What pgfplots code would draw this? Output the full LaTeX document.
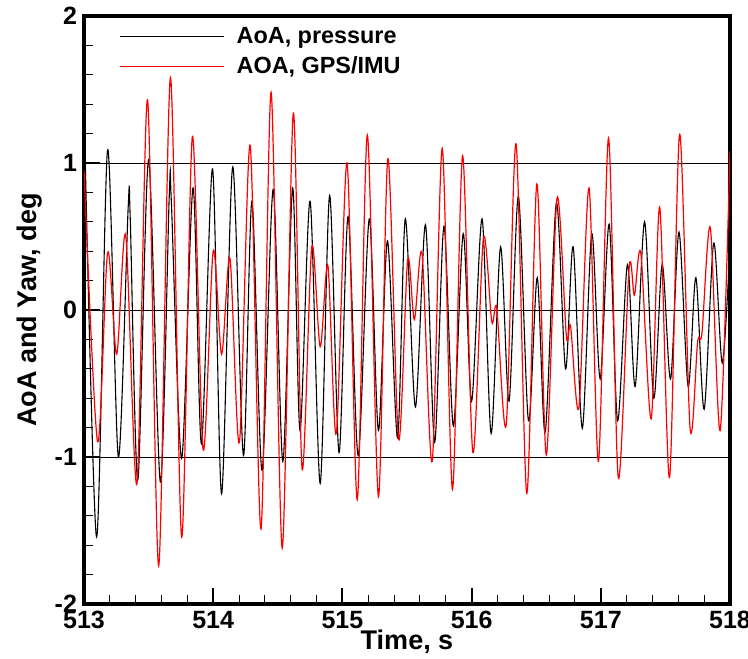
\documentclass[border=0pt]{standalone}
\usepackage{fontspec}
\setmainfont{Liberation Sans}
\usepackage{pgfplots}
\pgfplotsset{compat=1.18}
\begin{document}
\begin{tikzpicture}
\path[use as bounding box] (-42pt,-27pt) rectangle (332pt,302pt);
\begin{axis}[
  at={(0,0)}, anchor=south west,
  scale only axis, width=323pt, height=294pt,
  xmin=513, xmax=518, ymin=-2, ymax=2,
  xtick={513,514,515,516,517,518}, ytick={-2,-1,0,1,2},
  minor x tick num=4, minor y tick num=4,
  tick pos=left, tick align=inside,
  major tick length=8pt, minor tick length=4.5pt,
  every major tick/.append style={line width=1pt, black},
  every minor tick/.append style={line width=0.5pt, black},
  axis line style={line width=1.6pt},
  ymajorgrids, major grid style={black, line width=0.5pt},
  /pgf/number format/assume math mode=true,
  /pgf/number format/1000 sep={},
  tick label style={font=\fontsize{12.5}{14}\selectfont\bfseries},
  xlabel={Time, s}, ylabel={AoA and Yaw, deg},
  label style={font=\fontsize{13.5}{16}\selectfont\bfseries},
  xlabel style={at={(axis description cs:0.5,0)}, anchor=north, yshift=-9.5pt},
  ylabel style={at={(axis description cs:-0.0836,0.5)}, anchor=center},
  legend cell align=left,
  legend image code/.code={\draw[#1] (0pt,0pt) -- (52pt,0pt); \path (56pt,0pt);},
  legend style={draw=none, fill=none, at={(axis description cs:0.045,0.995)}, anchor=north west,
    font=\fontsize{11.7}{13}\selectfont\bfseries, row sep=1pt},
]
\addplot[black, line width=0.55pt, smooth] coordinates {
(513.000,1.40) (513.097,-1.545) (513.183,1.09) (513.266,-1.00) (513.342,0.70) (513.358,0.62)
(513.417,-1.156) (513.500,1.02) (513.591,-1.17) (513.660,0.78) (513.676,0.74) (513.756,-1.01)
(513.844,0.83) (513.909,-0.91) (513.995,0.96) (514.065,-1.25) (514.151,0.974) (514.234,-0.99)
(514.300,0.74) (514.378,-1.09) (514.464,0.82) (514.539,-1.03) (514.615,0.83) (514.672,-0.82)
(514.750,0.74) (514.828,-1.18) (514.901,0.78) (514.974,-0.97) (515.044,0.636) (515.122,-0.99)
(515.208,0.62) (515.279,-0.82) (515.349,0.47) (515.427,-0.87) (515.487,0.62) (515.565,-0.66)
(515.643,0.58) (515.714,-0.90) (515.786,0.57) (515.859,-0.79) (515.935,0.52) (516.000,-0.62)
(516.081,0.62) (516.151,-0.84) (516.224,0.43) (516.290,-0.62) (516.362,0.774) (516.440,-0.753)
(516.508,0.22) (516.570,-0.83) (516.656,0.727) (516.727,-0.40) (516.786,0.43) (516.857,-0.805)
(516.930,0.52) (516.995,-0.468) (517.065,0.584) (517.130,-0.753) (517.206,0.31) (517.266,-0.52)
(517.339,0.60) (517.410,-0.60) (517.475,0.31) (517.540,-0.47) (517.605,0.53) (517.676,-0.52)
(517.736,0.22) (517.800,-0.675) (517.874,0.455) (517.940,-0.36) (518.000,0.44)
};
\addlegendentry{AoA, pressure}
\addplot[red, line width=0.6pt, smooth] coordinates {
(513.000,0.95) (513.105,-0.896) (513.183,0.39) (513.253,-0.30) (513.323,0.506) (513.410,-1.18)
(513.492,1.43) (513.578,-1.74) (513.669,1.58) (513.756,-1.545) (513.839,1.18) (513.922,-0.95)
(514.000,0.40) (514.065,-0.30) (514.130,0.35) (514.203,-0.90) (514.286,1.12) (514.370,-1.49)
(514.448,1.48) (514.534,-1.62) (514.620,1.34) (514.688,-1.08) (514.763,0.43) (514.828,-0.25)
(514.888,0.30) (514.953,-0.84) (515.036,1.00) (515.115,-1.29) (515.193,1.19) (515.279,-1.27)
(515.352,1.03) (515.435,-0.88) (515.505,0.34) (515.557,-0.065) (515.617,0.38) (515.695,-1.03)
(515.773,1.10) (515.852,-1.22) (515.930,1.05) (516.010,-0.97) (516.091,0.486) (516.156,-0.08)
(516.195,0.01) (516.268,-0.78) (516.344,1.13) (516.427,-1.247) (516.505,0.857) (516.578,-0.987)
(516.661,0.76) (516.734,-0.18) (516.766,-0.11) (516.831,-0.66) (516.909,0.83) (516.982,-1.03)
(517.060,1.17) (517.135,-1.14) (517.219,0.286) (517.260,0.10) (517.310,0.384) (517.390,-0.74)
(517.456,0.70) (517.532,-1.14) (517.610,1.195) (517.691,-0.805) (517.749,-0.22) (517.783,-0.156)
(517.848,0.558) (517.924,-0.82) (518.000,1.08)
};
\addlegendentry{AOA, GPS/IMU}
\end{axis}
\end{tikzpicture}
\end{document}
